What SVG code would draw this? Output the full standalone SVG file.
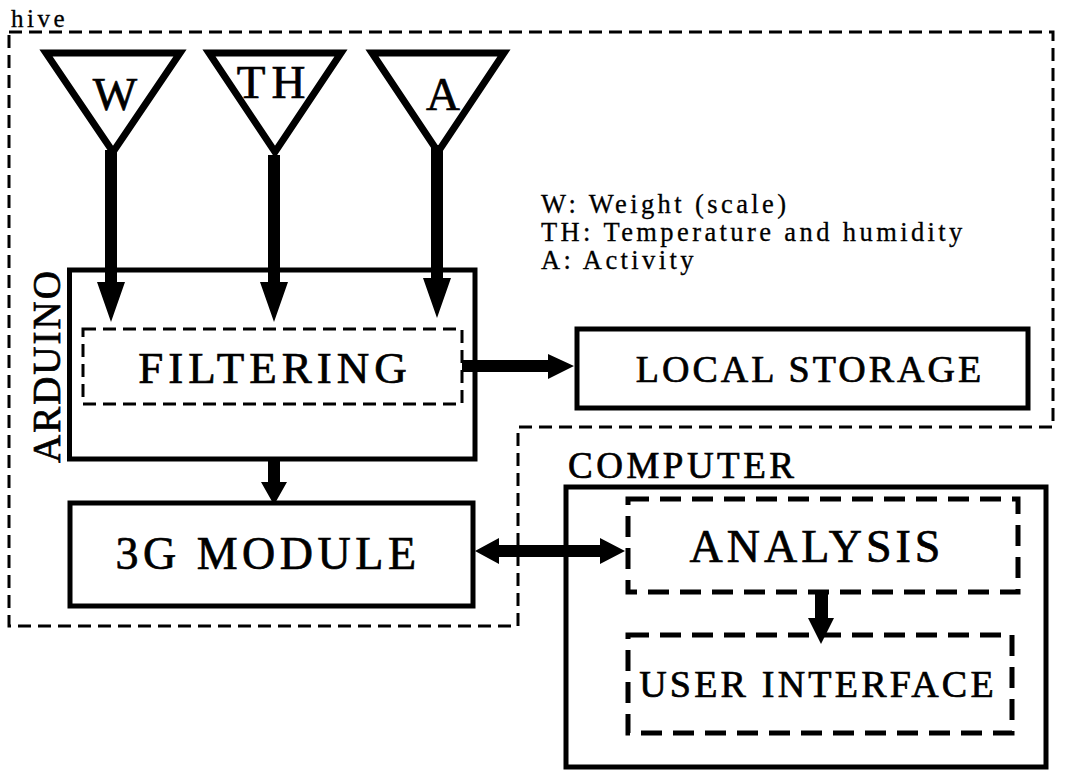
<svg xmlns="http://www.w3.org/2000/svg" width="1068" height="783" viewBox="0 0 1068 783">
<style>
  text { font-family: "Liberation Serif", "Times New Roman", serif; fill: #000; }
  .heavy { stroke: #000; stroke-width: 0.7px; }
  .box { fill: none; stroke: #000; stroke-width: 5; }
  .dash-thin { fill: none; stroke: #000; stroke-width: 3; stroke-dasharray: 13 7; }
  .dash-thick { fill: none; stroke: #000; stroke-width: 5; stroke-dasharray: 21 11; }
  .tri { fill: #fff; stroke: #000; stroke-width: 7; stroke-linejoin: miter; }
  .arrow { fill: #000; stroke: none; }
  .big { font-size: 45px; letter-spacing: 5px; text-anchor: middle; }
  .mid { font-size: 38px; letter-spacing: 3px; text-anchor: middle; }
  .legend { font-size: 26.5px; letter-spacing: 3.4px; stroke: #000; stroke-width: 0.3px; }
</style>
<rect width="1068" height="783" fill="#fff"/>

<g id="hive">
  <path class="dash-thin" d="M9,32 H1053 V427 H518 V626 H9 Z"/>
  <text x="11" y="27" style="font-size:25px;letter-spacing:3.5px;stroke:#000;stroke-width:0.3px">hive</text>
</g>

<g id="sensor-W">
  <polygon class="tri" points="46,53 180,53 113,152"/>
  <text class="heavy" x="115" y="110" style="font-size:47px;text-anchor:middle">W</text>
</g>
<g id="sensor-TH">
  <polygon class="tri" points="209,53 341,53 275,152"/>
  <text class="heavy" x="274" y="98" style="font-size:47px;letter-spacing:6px;text-anchor:middle">TH</text>
</g>
<g id="sensor-A">
  <polygon class="tri" points="372,53 504,53 438,152"/>
  <text class="heavy" x="443" y="110" style="font-size:47px;text-anchor:middle">A</text>
</g>

<g id="legend">
  <text class="legend" x="541" y="213">W: Weight (scale)</text>
  <text class="legend" x="541" y="241">TH: Temperature and humidity</text>
  <text class="legend" x="541" y="269">A: Activity</text>
</g>

<g id="arduino">
  <rect class="box" x="69.5" y="270" width="405.5" height="189"/>
  <text class="heavy" x="60" y="463" transform="rotate(-90 60 463)" style="font-size:39px;letter-spacing:2px">ARDUINO</text>
</g>

<g id="filtering">
  <rect class="dash-thin" x="83" y="329" width="379" height="75"/>
  <text class="big heavy" x="275" y="383">FILTERING</text>
</g>

<g id="local-storage">
  <rect class="box" x="577" y="329" width="451" height="79"/>
  <text class="mid heavy" x="810" y="382">LOCAL STORAGE</text>
</g>

<g id="module-3g">
  <rect class="box" x="70" y="503" width="403" height="103"/>
  <text class="heavy" x="268" y="569" style="font-size:46px;letter-spacing:4.5px;text-anchor:middle">3G MODULE</text>
</g>

<g id="computer">
  <rect class="box" x="566" y="487" width="480" height="280"/>
  <text class="heavy" x="568" y="478" style="font-size:37px;letter-spacing:3.5px">COMPUTER</text>
</g>

<g id="analysis">
  <rect class="dash-thick" x="628" y="499" width="390" height="93"/>
  <text class="heavy" x="817" y="562" style="font-size:46px;letter-spacing:4px;text-anchor:middle">ANALYSIS</text>
</g>

<g id="user-interface">
  <rect class="dash-thick" x="628" y="635" width="384" height="98"/>
  <text class="mid heavy" x="818" y="697" style="letter-spacing:3.2px">USER INTERFACE</text>
</g>

<g id="connectors">
  <path class="arrow" d="M105,150 H117 V282 H125 L111,322 L97,282 H105 Z"/>
  <path class="arrow" d="M268,155 H280 V282 H288 L274,322 L260,282 H268 Z"/>
  <path class="arrow" d="M431,145 H443 V278 H451 L437,318 L423,278 H431 Z"/>
  <path class="arrow" d="M462,360 V372 H548 V379 L574,366 L548,354 V360 Z"/>
  <path class="arrow" d="M268,459 H280 V482 H287 L274,505 L261,482 H268 Z"/>
  <path class="arrow" d="M475,551 L499,538 V545 H600 V538 L625,551 L600,564 V557 H499 V564 Z"/>
  <path class="arrow" d="M815,592 H828 V618 H834 L821,644 L808,618 H815 Z"/>
</g>
</svg>
